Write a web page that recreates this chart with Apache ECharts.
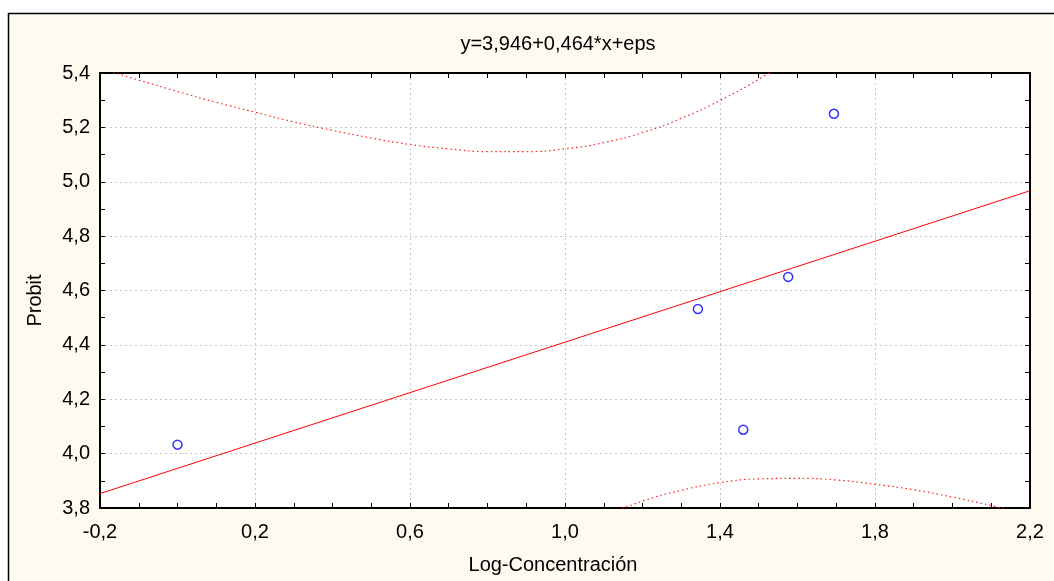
<!DOCTYPE html>
<html>
<head>
<meta charset="utf-8">
<script src="https://cdn.jsdelivr.net/npm/echarts@6/dist/echarts.min.js"></script>
<style>
  html, body { margin: 0; padding: 0; background: #ffffff; }
  #chart { width: 1054px; height: 581px; }
</style>
</head>
<body>
<div id="chart"></div>
<script>
// observed points: log concentration vs probit
const logConc = [0.0, 1.343, 1.46, 1.576, 1.694]
const probit = [4.033, 4.532, 4.088, 4.65, 5.25]

// fitted line endpoints, y = 3,946 + 0,464*x
const fitX = [-0.2, 2.2]
const fitY = [3.853, 4.967]

// confidence band
const upperX = [-0.2, -0.1, 0.0, 0.1, 0.2, 0.3, 0.4, 0.5, 0.6, 0.7, 0.8, 0.9, 1.0, 1.1, 1.2, 1.3, 1.4, 1.5, 1.6]
const upperY = [5.416, 5.374, 5.332, 5.292, 5.256, 5.22, 5.189, 5.161, 5.137, 5.121, 5.111, 5.111, 5.121, 5.144, 5.181, 5.233, 5.299, 5.377, 5.467]
const lowerX = [1.0, 1.1, 1.2, 1.3, 1.4, 1.5, 1.6, 1.7, 1.8, 1.9, 2.0, 2.1, 2.2]
const lowerY = [3.699, 3.768, 3.825, 3.865, 3.893, 3.907, 3.909, 3.903, 3.887, 3.867, 3.84, 3.809, 3.775]

const titleText = 'y=3,946+0,464*x+eps'
const xName = 'Log-Concentración'
const yName = 'Probit'

const zip = (xs, ys) => xs.map((x, i) => [x, ys[i]])
const comma = (v) => v.toFixed(1).replace('.', ',')

const font = 'Liberation Sans, Arial, sans-serif'
const tickStyle = { show: true, inside: true, length: 5, lineStyle: { color: '#000' } }
const minorStyle = { show: true, length: 5, lineStyle: { color: '#000' } }
const lineStyle = { show: true, onZero: false, lineStyle: { color: '#000', width: 2 } }
const gridLine = { show: true, lineStyle: { color: '#c8c8c8', type: [2, 3], width: 1 } }

const chart = echarts.init(document.getElementById('chart'))

chart.setOption({
  backgroundColor: '#ffffff',
  animation: false,
  graphic: [
    {
      type: 'rect',
      z: -10,
      silent: true,
      shape: { x: 8.5, y: 13.5, width: 1200, height: 700 },
      style: { fill: '#fffaf0', stroke: '#000', lineWidth: 1.5 },
    },
  ],
  title: {
    text: titleText,
    left: 553,
    top: 29,
    textAlign: 'center',
    textStyle: { fontFamily: font, fontSize: 20, fontWeight: 'normal', color: '#000' },
  },
  grid: { left: 100, top: 73, right: 24, bottom: 73, show: true, backgroundColor: '#ffffff', borderWidth: 0 },
  xAxis: [
    {
      type: 'value',
      min: -0.2,
      max: 2.2,
      interval: 0.4,
      name: xName,
      nameLocation: 'middle',
      nameGap: 47,
      nameTextStyle: { fontFamily: font, fontSize: 20, color: '#000', padding: [0, 24, 0, 0] },
      axisLine: lineStyle,
      axisTick: tickStyle,
      minorTick: { ...minorStyle, splitNumber: 4 },
      splitLine: gridLine,
      axisLabel: { fontFamily: font, fontSize: 20, color: '#000', margin: 14, formatter: comma },
    },
    {
      type: 'value',
      position: 'top',
      min: -0.2,
      max: 2.2,
      interval: 0.4,
      axisLine: lineStyle,
      axisTick: tickStyle,
      minorTick: { ...minorStyle, splitNumber: 4 },
      splitLine: { show: false },
      axisLabel: { show: false },
    },
  ],
  yAxis: [
    {
      type: 'value',
      min: 3.8,
      max: 5.4,
      interval: 0.2,
      name: yName,
      nameLocation: 'middle',
      nameGap: 55,
      nameTextStyle: { fontFamily: font, fontSize: 20, color: '#000', padding: [0, 20, 0, 0] },
      axisLine: lineStyle,
      axisTick: tickStyle,
      minorTick: { ...minorStyle, splitNumber: 2 },
      splitLine: gridLine,
      axisLabel: { fontFamily: font, fontSize: 20, color: '#000', margin: 10, formatter: comma },
    },
    {
      type: 'value',
      position: 'right',
      min: 3.8,
      max: 5.4,
      interval: 0.2,
      axisLine: lineStyle,
      axisTick: tickStyle,
      minorTick: { ...minorStyle, splitNumber: 2 },
      splitLine: { show: false },
      axisLabel: { show: false },
    },
  ],
  series: [
    {
      type: 'line',
      data: zip(fitX, fitY),
      showSymbol: false,
      clip: true,
      lineStyle: { color: '#ff0000', width: 1 },
    },
    {
      type: 'line',
      data: zip(upperX, upperY),
      showSymbol: false,
      smooth: true,
      clip: true,
      lineStyle: { color: '#ff2020', width: 1.2, type: [1.5, 3] },
    },
    {
      type: 'line',
      data: zip(lowerX, lowerY),
      showSymbol: false,
      smooth: true,
      clip: true,
      lineStyle: { color: '#ff2020', width: 1.2, type: [1.5, 3] },
    },
    {
      type: 'scatter',
      data: zip(logConc, probit),
      symbol: 'circle',
      symbolSize: 9,
      itemStyle: { color: 'transparent', borderColor: '#0000ff', borderWidth: 1.5 },
      z: 5,
    },
  ],
})
</script>
</body>
</html>
